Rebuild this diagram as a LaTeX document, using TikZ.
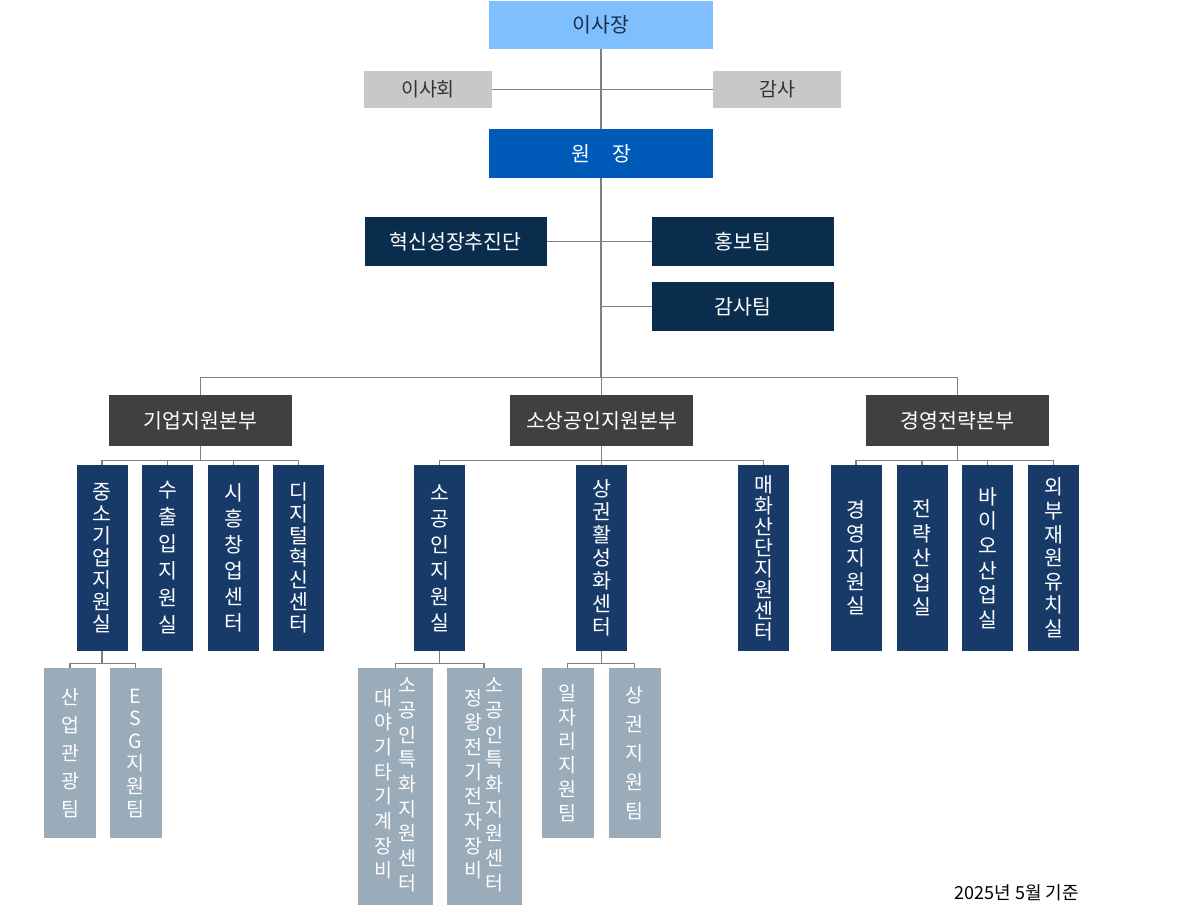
\documentclass[tikz,border=0pt]{standalone}
\usepackage{fontspec}
\setmainfont{Noto Sans CJK KR}
\usepackage{tikz}
\definecolor{chairblue}{HTML}{7FBFFF}
\definecolor{chairtext}{HTML}{1C2E4A}
\definecolor{sidegray}{HTML}{C8C8C8}
\definecolor{sidetext}{HTML}{333333}
\definecolor{chiefblue}{HTML}{005BB8}
\definecolor{staffnavy}{HTML}{0B2D4D}
\definecolor{divgray}{HTML}{404040}
\definecolor{deptnavy}{HTML}{173A69}
\definecolor{teamgray}{HTML}{9AABBA}
\definecolor{linkgray}{HTML}{808080}

\newcommand{\vcol}[1]{\begin{tabular}{@{}c@{}}#1\end{tabular}}

\begin{document}
\begin{tikzpicture}[x=1pt,y=-1pt,
    every node/.style={inner sep=0pt},
    link/.style={draw=linkgray, line width=1.2pt},
    chairbox/.style={fill=chairblue, text=chairtext, minimum width=224pt, minimum height=48pt, font=\fontsize{20.5}{24}\selectfont},
    sidebox/.style={fill=sidegray, text=sidetext, minimum width=128pt, minimum height=37pt, font=\fontsize{19.5}{24}\selectfont},
    chiefbox/.style={fill=chiefblue, text=white, minimum width=224pt, minimum height=49pt, font=\fontsize{20.5}{24}\selectfont},
    staffbox/.style={fill=staffnavy, text=white, minimum width=182pt, minimum height=49pt, font=\fontsize{20.5}{24}\selectfont},
    divbox/.style={fill=divgray, text=white, minimum width=183pt, minimum height=51pt, font=\fontsize{20.5}{24}\selectfont},
    deptbox/.style={fill=deptnavy, text=white, minimum width=51pt, minimum height=186pt, align=center, font=\fontsize{20.5}{#1}\selectfont},
    deptbox/.default=24,
    teambox/.style={fill=teamgray, text=white, minimum width=52pt, minimum height=170pt, align=center, font=\fontsize{19.5}{#1}\selectfont},
    teambox/.default=25,
    widebox/.style={fill=teamgray, text=white, minimum width=75pt, minimum height=237pt, font=\fontsize{19.5}{24.7}\selectfont}]

    \useasboundingbox (0,0) rectangle (1200,906);

%top
    \node[chairbox] (ceo) at (601,25) {이사장};
    \node[sidebox] (board) at (428,89.5) {이사회};
    \node[sidebox] (auditor) at (777,89.5) {감사};
    \node[chiefbox] (chief) at (601,153.5) {원\hspace{22pt}장};

%staff
    \node[staffbox] (innov) at (455.5,241.5) {혁신성장추진단};
    \node[staffbox] (pr) at (743,241.5) {홍보팀};
    \node[staffbox] (auditteam) at (743,306.5) {감사팀};

%divisions
    \node[divbox] (div1) at (200.5,420.5) {기업지원본부};
    \node[divbox] (div2) at (601.5,420.5) {소상공인지원본부};
    \node[divbox] (div3) at (957.5,420.5) {경영전략본부};

%departments
    \node[deptbox=22] (d11) at (102,558) {중\\소\\기\\업\\지\\원\\실};
    \node[deptbox=27] (d12) at (167.5,558) {수\\출\\입\\지\\원\\실};
    \node[deptbox=26] (d13) at (233.5,558) {시\\흥\\창\\업\\센\\터};
    \node[deptbox=22] (d14) at (298.5,558) {디\\지\\털\\혁\\신\\센\\터};

    \node[deptbox=26] (d21) at (439.5,558) {소\\공\\인\\지\\원\\실};
    \node[deptbox=23] (d22) at (601.5,558) {상\\권\\활\\성\\화\\센\\터};
    \node[deptbox=21] (d23) at (763.5,558) {매\\화\\산\\단\\지\\원\\센\\터};

    \node[deptbox=24] (d31) at (856,558) {경\\영\\지\\원\\실};
    \node[deptbox=24.5] (d32) at (922,558) {전\\략\\산\\업\\실};
    \node[deptbox=24.6] (d33) at (987.5,558) {바\\이\\오\\산\\업\\실};
    \node[deptbox=23.6] (d34) at (1053.5,558) {외\\부\\재\\원\\유\\치\\실};

%teams
    \node[teambox=28] (t11) at (70,753) {산\\업\\관\\광\\팀};
    \node[teambox=22.6] (t12) at (135.5,753) {E\\S\\G\\지\\원\\팀};

    \node[widebox] (t21) at (395.5,786.5) {\vcol{대\\야\\기\\타\\기\\계\\장\\비}\hspace{6pt}\vcol{소\\공\\인\\특\\화\\지\\원\\센\\터}};
    \node[widebox] (t22) at (484,786.5) {\vcol{정\\왕\\전\\기\\전\\자\\장\\비}\hspace{3.5pt}\vcol{소\\공\\인\\특\\화\\지\\원\\센\\터}};

    \node[teambox=24] (t23) at (567.5,753) {일\\자\\리\\지\\원\\팀};
    \node[teambox=29] (t24) at (634.5,753) {상\\권\\지\\원\\팀};

    \node[font=\fontsize{18}{22}\selectfont, anchor=east] (date) at (1079,893) {2025년 5월 기준};

%lines
    \draw[link] (ceo.south) -- (chief.north);
    \draw[link] (board.east) -- (auditor.west);
    \draw[link] (innov.east) -- (pr.west);
    \draw[link] (auditteam.west) -- (auditteam.west -| chief.south);
    \draw[link] (chief.south) -- ++(0,199) coordinate (bus);
    \foreach \d in {div1,div2,div3}
        \draw[link] (bus) -| (\d.north);

    \foreach \c in {d11,d12,d13,d14}
        \draw[link] (div1.south) -- ++(0,14) -| (\c.north);
    \foreach \c in {d21,d22,d23}
        \draw[link] (div2.south) -- ++(0,14) -| (\c.north);
    \foreach \c in {d31,d32,d33,d34}
        \draw[link] (div3.south) -- ++(0,14) -| (\c.north);

    \foreach \c in {t11,t12}
        \draw[link] (d11.south) -- ++(0,12) -| (\c.north);
    \foreach \c in {t21,t22}
        \draw[link] (d21.south) -- ++(0,12) -| (\c.north);
    \foreach \c in {t23,t24}
        \draw[link] (d22.south) -- ++(0,12) -| (\c.north);

\end{tikzpicture}
\end{document}
